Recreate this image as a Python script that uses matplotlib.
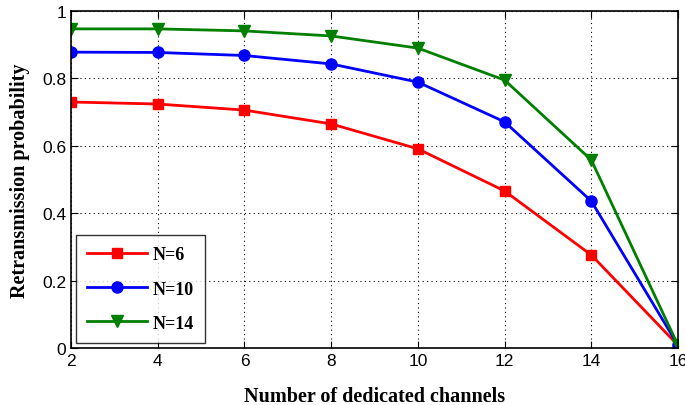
import matplotlib
matplotlib.use("Agg")
import matplotlib.pyplot as plt

# data
channels = [2, 4, 6, 8, 10, 12, 14, 16]
n6 = [0.730, 0.724, 0.706, 0.665, 0.591, 0.466, 0.276, 0.008]
n10 = [0.878, 0.877, 0.868, 0.843, 0.789, 0.671, 0.436, 0.008]
n14 = [0.947, 0.947, 0.941, 0.926, 0.890, 0.795, 0.558, 0.008]
labels = ["N=6", "N=10", "N=14"]

plt.rcParams['font.family'] = ['Liberation Sans', 'DejaVu Sans']

fig = plt.figure(figsize=(6.85, 4.06), dpi=100)
ax = fig.add_axes([0.1037, 0.1404, 0.8861, 0.830])

ax.plot(channels, n6, color="red", marker="s", markersize=7, lw=2, label=labels[0])
ax.plot(channels, n10, color="blue", marker="o", markersize=8, lw=2, label=labels[1])
ax.plot(channels, n14, color="#007f00", marker="v", markersize=9, lw=2, label=labels[2])

ax.set_xlim(2, 16)
ax.set_ylim(0, 1)
ax.set_xticks(channels)
ax.set_yticks([0, 0.2, 0.4, 0.6, 0.8, 1])
ax.set_yticklabels(["0", "0.2", "0.4", "0.6", "0.8", "1"])
ax.tick_params(direction="in", top=True, right=True, labelsize=12.5, length=5)
ax.grid(True, linestyle=(0, (1, 3)), color="black", linewidth=0.8)
for s in ax.spines.values():
    s.set_linewidth(1.2)

ax.set_xlabel("Number of dedicated channels", family="Liberation Serif",
              fontweight="bold", fontsize=14.5, labelpad=13)
ax.set_ylabel("Retransmission probability", family="Liberation Serif",
              fontweight="bold", fontsize=14.5, labelpad=9)

leg = ax.legend(loc="lower left", fancybox=False, edgecolor="black",
                prop={"family": "Liberation Serif", "weight": "bold", "size": 13},
                borderpad=0.65, labelspacing=0.95, handlelength=3.3,
                handletextpad=0.3, borderaxespad=0.25)
leg.get_frame().set_linewidth(1.0)

fig.savefig("out.png", dpi=100)
